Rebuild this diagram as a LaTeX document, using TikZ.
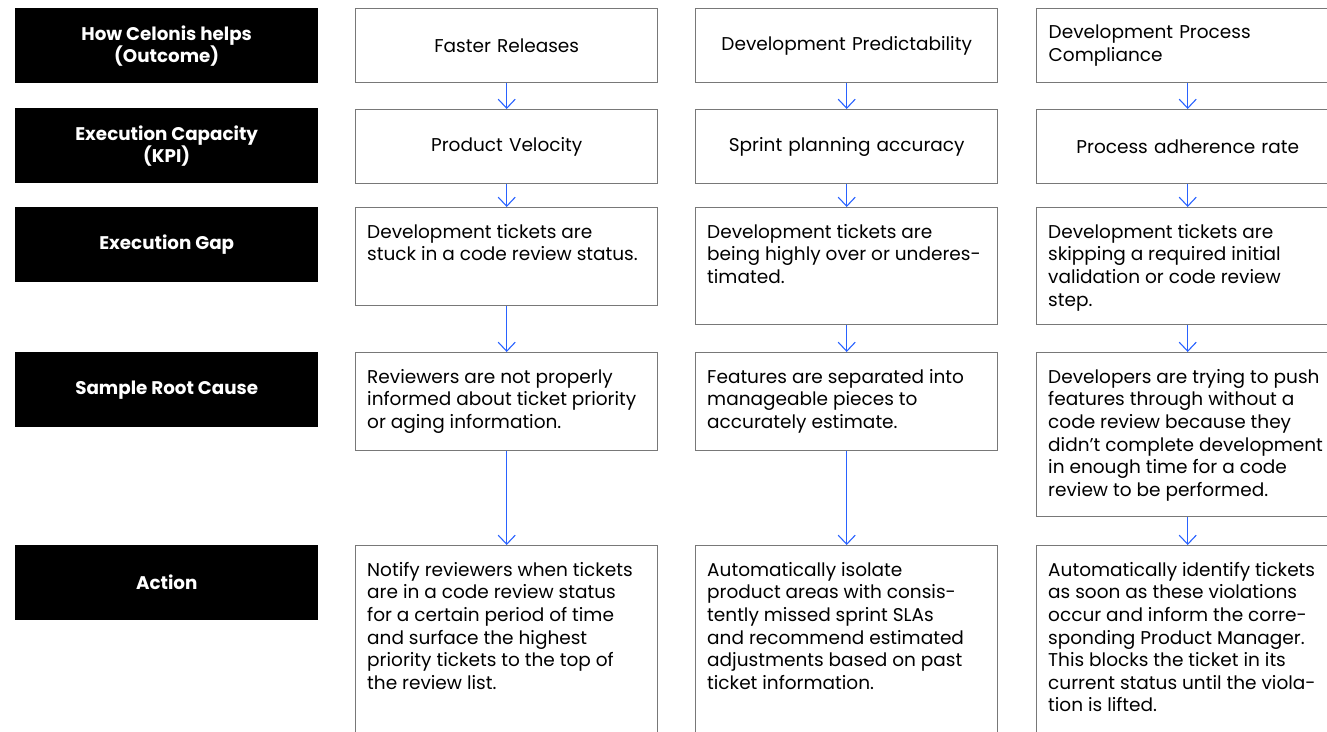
\documentclass[tikz,border=0pt]{standalone}
\usepackage{fontspec}
\setmainfont{Poppins}
\usetikzlibrary{arrows.meta}
\definecolor{boxgray}{RGB}{120,120,120}
\definecolor{flowblue}{RGB}{41,98,255}

\begin{document}
\begin{tikzpicture}[x=1pt,y=-1pt]
        \tikzstyle{every node} = [font=\fontsize{18.5}{22.6}\selectfont, inner sep=0pt]
        \tikzstyle{head} = [fill=black, text=white, font=\fontsize{18.3}{22}\selectfont\bfseries, align=center, anchor=north west, minimum width=303pt, minimum height=75pt]
        \tikzstyle{cell} = [draw=boxgray, line width=1.4pt, anchor=north west, minimum width=302pt, text width=278pt, align=center]
        \tikzstyle{body} = [anchor=north west, align=left]
        \tikzstyle{flow} = [draw=flowblue, line width=1.1pt, -{Straight Barb[length=9pt,width=17pt]}]
        \clip (0,0) rectangle (1327,731);
        % row labels
        \node[head] (h1) at (15,8) {How Celonis helps\\(Outcome)};
        \node[head] (h2) at (15,108) {Execution Capacity\\(KPI)};
        \node[head] (h3) at (15,207) {Execution Gap};
        \node[head] (h4) at (15,352) {Sample Root Cause};
        \node[head] (h5) at (15,545) {Action};
        % outcome and kpi
        \node[cell, minimum height=74pt] (o1) at (355,8) {Faster Releases};
        \node[cell, minimum height=74pt] (o2) at (695,8) {Development Predictability};
        \node[cell, minimum height=74pt, align=left] (o3) at (1036,8) {Development Process\\Compliance};
        \node[cell, minimum height=74pt] (k1) at (355,109) {Product Velocity};
        \node[cell, minimum height=74pt] (k2) at (695,109) {Sprint planning accuracy};
        \node[cell, minimum height=74pt] (k3) at (1036,109) {Process adherence rate};
        % gap, cause, action
        \node[cell, minimum height=98pt] (g1) at (355,207) {};
        \node[cell, minimum height=117pt] (g2) at (695,207) {};
        \node[cell, minimum height=117pt] (g3) at (1036,207) {};
        \node[cell, minimum height=98pt] (r1) at (355,352) {};
        \node[cell, minimum height=98pt] (r2) at (695,352) {};
        \node[cell, minimum height=164pt] (r3) at (1036,352) {};
        \node[cell, minimum height=220pt] (a1) at (355,545) {};
        \node[cell, minimum height=220pt] (a2) at (695,545) {};
        \node[cell, minimum height=220pt] (a3) at (1036,545) {};
        \node[body] (g1t) at ([xshift=12pt,yshift=-17pt]g1.north west) {Development tickets are\\stuck in a code review status.};
        \node[body] (g2t) at ([xshift=12pt,yshift=-17pt]g2.north west) {Development tickets are\\being highly over or underes-\\timated.};
        \node[body] (g3t) at ([xshift=12pt,yshift=-17pt]g3.north west) {Development tickets are\\skipping a required initial\\validation or code review\\step.};
        \node[body] (r1t) at ([xshift=12pt,yshift=-17pt]r1.north west) {Reviewers are not properly\\informed about ticket priority\\or aging information.};
        \node[body] (r2t) at ([xshift=12pt,yshift=-17pt]r2.north west) {Features are separated into\\manageable pieces to\\accurately estimate.};
        \node[body] (r3t) at ([xshift=12pt,yshift=-17pt]r3.north west) {Developers are trying to push\\features through without a\\code review because they\\didn’t complete development\\in enough time for a code\\review to be performed.};
        \node[body] (a1t) at ([xshift=12pt,yshift=-17pt]a1.north west) {Notify reviewers when tickets\\are in a code review status\\for a certain period of time\\and surface the highest\\priority tickets to the top of\\the review list.};
        \node[body] (a2t) at ([xshift=12pt,yshift=-17pt]a2.north west) {Automatically isolate\\product areas with consis-\\tently missed sprint SLAs\\and recommend estimated\\adjustments based on past\\ticket information.};
        \node[body] (a3t) at ([xshift=12pt,yshift=-17pt]a3.north west) {Automatically identify tickets\\as soon as these violations\\occur and inform the corre-\\sponding Product Manager.\\This blocks the ticket in its\\current status until the viola-\\tion is lifted.};
        \foreach \from/\to in {o1/k1, o2/k2, o3/k3, k1/g1, k2/g2, k3/g3, g1/r1, g2/r2, g3/r3, r1/a1, r2/a2, r3/a3}
            \draw[flow] (\from) -- (\to);
\end{tikzpicture}
\end{document}
